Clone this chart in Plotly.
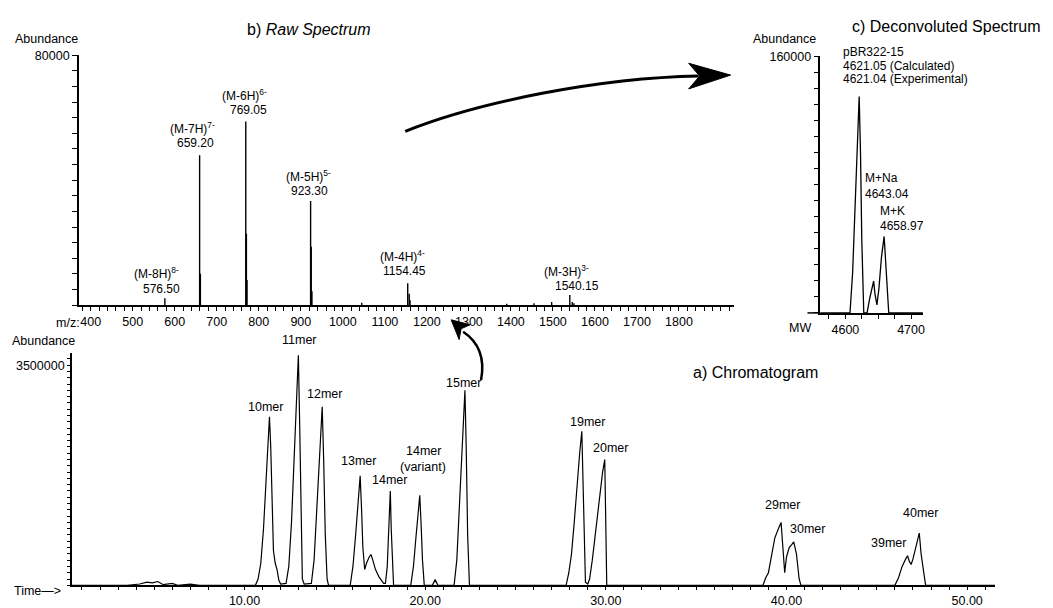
import plotly.graph_objects as go

W, H = 1053, 608

# ---------------- data ----------------
# b) Raw spectrum: stick peaks (m/z, abundance)
raw_mz = [576.5, 659.2, 661.0, 769.05, 770.5, 772.0, 923.3, 924.8, 926.5,
          1045.0, 1154.45, 1158.0, 1160.0, 1390.0, 1455.0, 1497.0, 1540.15, 1546.0, 1550.0]
raw_abund = [2200, 48000, 10000, 58800, 22800, 8000, 33300, 18700, 4400,
             700, 7000, 3600, 1500, 400, 600, 1000, 3200, 1000, 600]
raw_labels = ["(M-8H)<sup>8-</sup>", "(M-7H)<sup>7-</sup>", "(M-6H)<sup>6-</sup>",
              "(M-5H)<sup>5-</sup>", "(M-4H)<sup>4-</sup>", "(M-3H)<sup>3-</sup>"]
raw_label_mz = [576.50, 659.20, 769.05, 923.30, 1154.45, 1540.15]
raw_ticks = [400, 500, 600, 700, 800, 900, 1000, 1100, 1200, 1300, 1400, 1500, 1600, 1700, 1800]

# c) Deconvoluted spectrum (MW, abundance)
dec_mw = [4562, 4607, 4611, 4615, 4619, 4621, 4623, 4625, 4628, 4633, 4637, 4641, 4643, 4645,
          4648, 4651, 4655, 4659, 4661, 4663, 4666, 4718]
dec_abund = [0, 0, 25000, 70000, 115000, 135000, 100000, 45000, 0, 0, 9000, 17000, 19800, 12000,
             5000, 15000, 35000, 47700, 35000, 15000, 0, 0]
dec_peak_mw = [4621.04, 4643.04, 4658.97]
dec_calc = 4621.05
dec_name = "pBR322-15"

# a) Chromatogram (time in min, abundance)
chrom_time = [0.44, 3.5, 4.2, 4.6, 4.9, 5.2, 5.5, 6.0, 6.3, 7.0, 7.5,
              # 10mer
              10.6, 10.75, 10.9, 11.05, 11.2, 11.3, 11.38, 11.45, 11.52, 11.6, 11.7, 11.8, 11.9, 12.0,
              # 11mer
              12.3, 12.45, 12.6, 12.75, 12.88, 12.98, 13.05, 13.12, 13.2, 13.3,
              # 12mer
              13.7, 13.85, 14.0, 14.15, 14.3, 14.38, 14.47, 14.57, 14.65,
              # 13mer + shoulder
              15.85, 16.0, 16.15, 16.3, 16.4, 16.48, 16.55, 16.65, 16.75, 16.9, 17.0, 17.1, 17.25,
              17.45, 17.7,
              # 14mer
              17.8, 17.9, 17.97, 18.02, 18.07, 18.12, 18.18, 18.25,
              # 14mer variant
              19.2, 19.35, 19.5, 19.62, 19.7, 19.77, 19.85, 19.95,
              20.4, 20.55, 20.7,
              # 15mer
              21.6, 21.75, 21.9, 22.05, 22.15, 22.2, 22.27, 22.35, 22.45,
              # 19mer
              27.8, 27.95, 28.1, 28.25, 28.4, 28.55, 28.67, 28.73, 28.8, 28.87,
              # 20mer
              29.0, 29.1, 29.25, 29.45, 29.65, 29.82, 29.94, 29.99, 30.05,
              # 29mer / 30mer
              38.7, 38.85, 39.0, 39.15, 39.35, 39.55, 39.7, 39.8, 39.9, 40.0, 40.15, 40.3, 40.4,
              40.55, 40.7, 40.8,
              # 39mer / 40mer
              46.0, 46.2, 46.4, 46.6, 46.7, 46.8, 46.9, 47.0, 47.15, 47.35, 47.45, 47.6, 47.7,
              51.55]
chrom_abund = [0, 0, 20000, 50000, 40000, 60000, 10000, 30000, 0, 20000, 0,
               0, 100000, 350000, 900000, 1800000, 2400000, 2680000, 2200000, 1200000, 550000,
               350000, 250000, 80000, 20000,
               30000, 300000, 1000000, 2000000, 3000000, 3660000, 2600000, 1000000, 100000, 20000,
               30000, 400000, 1200000, 2200000, 2840000, 2000000, 800000, 100000, 0,
               0, 300000, 800000, 1400000, 1740000, 1200000, 600000, 250000, 350000, 450000,
               490000, 400000, 250000, 130000, 30000,
               30000, 300000, 800000, 1200000, 1500000, 900000, 300000, 0,
               0, 300000, 800000, 1250000, 1430000, 1000000, 400000, 0,
               0, 90000, 0,
               0, 400000, 1300000, 2300000, 2900000, 3100000, 2200000, 800000, 0,
               0, 200000, 500000, 1000000, 1600000, 2100000, 2450000, 1600000, 500000, 50000,
               20000, 100000, 400000, 900000, 1350000, 1800000, 2000000, 1200000, 0,
               0, 120000, 200000, 450000, 750000, 900000, 1000000, 600000, 200000, 450000,
               600000, 650000, 690000, 500000, 100000, 0,
               0, 120000, 300000, 420000, 470000, 380000, 330000, 420000, 600000, 830000,
               500000, 150000, 0,
               0]
chrom_names = ["10mer", "11mer", "12mer", "13mer", "14mer", "14mer", "15mer",
               "19mer", "20mer", "29mer", "30mer", "39mer", "40mer"]
chrom_major = [5, 10, 15, 20, 25, 30, 35, 40, 45, 50]

# ---------------- helpers ----------------
def px(x):
    return x / W

def py(y):
    return 1 - y / H

FONT = "Liberation Sans, Arial, sans-serif"

fig = go.Figure()

# raw spectrum sticks
sx, sy = [], []
for m, a in zip(raw_mz, raw_abund):
    sx += [m, m, None]
    sy += [0, a, None]
fig.add_trace(go.Scatter(x=sx, y=sy, mode="lines", line=dict(color="black", width=1.4),
                         xaxis="x", yaxis="y", hoverinfo="skip", showlegend=False))

# deconvoluted
fig.add_trace(go.Scatter(x=dec_mw, y=dec_abund, mode="lines", line=dict(color="black", width=1.3),
                         xaxis="x2", yaxis="y2", showlegend=False))

# chromatogram
fig.add_trace(go.Scatter(x=chrom_time, y=chrom_abund, mode="lines", line=dict(color="black", width=1.2),
                         xaxis="x3", yaxis="y3", showlegend=False, cliponaxis=False))

# ---------------- axes ----------------
def mz_at(p):
    return 659.2 + (p - 200) / 0.421

def mw_at(p):
    return 4600 + (p - 847) / 0.658

def t_at(p):
    return 10 + (p - 245) / 18.1

axis_common = dict(showline=True, linecolor="black", linewidth=1.5, showgrid=False, zeroline=False,
                   ticks="outside", tickcolor="black", tickwidth=1.2,
                   tickfont=dict(family=FONT, size=12.5, color="black"))

chrom_top = 3500000 * (586 - 351) / (586 - 363)

# tick lists (layout only)
raw_x_tv = list(range(380, 1921, 20))
raw_x_tt = [str(v) if v in raw_ticks else "" for v in raw_x_tv]
raw_y_tv = list(range(0, 80001, 5000))
raw_y_tt = ["80000" if v == 80000 else "" for v in raw_y_tv]
dec_x_tv = list(range(4575, 4716, 25))
dec_x_tt = [str(v) if v in (4600, 4700) else "" for v in dec_x_tv]
dec_y_tv = list(range(0, 160001, 10000))
dec_y_tt = ["160000" if v == 160000 else "" for v in dec_y_tv]
ch_x_tv = list(range(1, 52))
ch_x_tt = [("%.2f" % v) if v % 10 == 0 else "" for v in ch_x_tv]
ch_y_tv = list(range(0, 3600001, 100000))
ch_y_tt = ["3500000" if v == 3500000 else "" for v in ch_y_tv]

fig.update_layout(
    width=W, height=H, margin=dict(l=0, r=0, t=0, b=0),
    paper_bgcolor="white", plot_bgcolor="white", showlegend=False,
    xaxis=dict(axis_common, domain=[px(79), px(735)], range=[mz_at(79), mz_at(735)], anchor="y",
               tickmode="array", tickvals=raw_x_tv, ticktext=raw_x_tt, ticklen=4),
    yaxis=dict(axis_common, domain=[py(302), py(49)], range=[0, 80000], anchor="x",
               tickmode="array", tickvals=raw_y_tv, ticktext=raw_y_tt, ticklen=5),
    xaxis2=dict(axis_common, domain=[px(822), px(925)], range=[mw_at(822), mw_at(925)], anchor="y2",
                tickmode="array", tickvals=dec_x_tv, ticktext=dec_x_tt, ticklen=4),
    yaxis2=dict(axis_common, domain=[py(310), py(50)], range=[0, 160000], anchor="x2",
                tickmode="array", tickvals=dec_y_tv, ticktext=dec_y_tt, ticklen=5),
    xaxis3=dict(axis_common, domain=[px(72), px(997)], range=[t_at(72), t_at(997)], anchor="y3",
                linewidth=2, tickmode="array", tickvals=ch_x_tv, ticktext=ch_x_tt, ticklen=3),
    yaxis3=dict(axis_common, domain=[py(586), py(351)], range=[0, chrom_top], anchor="x3",
                tickmode="array", tickvals=ch_y_tv, ticktext=ch_y_tt, ticklen=3),
    # overlay axes carrying the longer major ticks of the chromatogram
    xaxis4=dict(overlaying="x3", anchor="y3", range=[t_at(72), t_at(997)], showline=False,
                showgrid=False, zeroline=False, ticks="outside", ticklen=7, tickwidth=1.3,
                tickcolor="black", tickmode="array", tickvals=chrom_major, showticklabels=False),
    yaxis4=dict(overlaying="y3", anchor="x3", range=[0, chrom_top], showline=False,
                showgrid=False, zeroline=False, ticks="outside", ticklen=6, tickwidth=1.3,
                tickcolor="black", tickmode="array", tickvals=[i * 500000 for i in range(8)],
                showticklabels=False),
)

# ---------------- annotations ----------------
ann = []

def text(x, y, s, size=13, xanchor="center", yanchor="middle", align="center"):
    ann.append(dict(x=px(x), y=py(y), xref="paper", yref="paper", text=s, showarrow=False,
                    xanchor=xanchor, yanchor=yanchor, align=align,
                    font=dict(family=FONT, size=size, color="black")))

# titles
text(310, 23, "b) <i>Raw Spectrum</i>", size=16)
text(948, 20, "c) Deconvoluted Spectrum", size=16)
text(757, 370, "a) Chromatogram", size=16)

# axis captions
text(47, 32, "Abundance", size=12.5)
text(786, 32, "Abundance", size=12.5)
text(44, 338, "Abundance", size=12.5)
text(82, 320, "m/z:", size=12.5, xanchor="right")
text(802, 325, "MW", size=12.5)
text(38, 592, "Time\u2014>", size=12.5)

# raw spectrum peak labels: (ion line x, y), (value line x, y) in px
raw_label_pos = [((157, 270), (162, 286)), ((193, 123), (196, 138)), ((245, 89), (249, 104)),
                 ((309, 171), (310, 186)), ((403, 252), (405, 268)), ((568, 268), (578, 283))]
for lab, m, (p1, p2) in zip(raw_labels, raw_label_mz, raw_label_pos):
    text(p1[0], p1[1], lab, size=12)
    text(p2[0], p2[1], f"{m:.2f}", size=12)

# deconvoluted labels
dec_lines = [dec_name, f"{dec_calc:.2f} (Calculated)", f"{dec_peak_mw[0]:.2f} (Experimental)"]
for i, s in enumerate(dec_lines):
    text(843, 46 + 13.5 * i, s, size=12, xanchor="left", align="left")
text(865, 173, "M+Na", size=12, xanchor="left", align="left")
text(865, 189, f"{dec_peak_mw[1]:.2f}", size=12, xanchor="left", align="left")
text(880, 207, "M+K", size=12, xanchor="left", align="left")
text(880, 222, f"{dec_peak_mw[2]:.2f}", size=12, xanchor="left", align="left")

# chromatogram labels
chrom_label_pos = [(266, 405), (300, 337), (325, 392), (359, 460), (390, 479), (424, 450), (464, 381),
                   (589, 421), (612, 447), (784, 505), (809, 529), (890, 543), (922, 513)]
for name, (x, y) in zip(chrom_names, chrom_label_pos):
    text(x, y, name, size=12.5)
text(424, 466, "(variant)", size=12.5)

fig.update_layout(annotations=ann)

# ---------------- decorative arrows ----------------
def P(x, y):
    return f"{px(x):.5f},{py(y):.5f}"

shapes = [
    dict(type="path", xref="paper", yref="paper",
         path=f"M {P(406,126)} C {P(480,96)} {P(600,72)} {P(700,70)}",
         line=dict(color="black", width=3)),
    dict(type="path", xref="paper", yref="paper",
         path=f"M {P(732,69)} L {P(690,57)} L {P(701,70)} L {P(690,83)} Z",
         fillcolor="black", line=dict(color="black", width=1)),
    dict(type="path", xref="paper", yref="paper",
         path=f"M {P(482,378)} Q {P(488,345)} {P(464,329)}",
         line=dict(color="black", width=2.5)),
    dict(type="path", xref="paper", yref="paper",
         path=f"M {P(452,317)} L {P(471,322)} L {P(462,326)} L {P(460,337)} Z",
         fillcolor="black", line=dict(color="black", width=1)),
    # x-axis line of the deconvoluted panel runs a little left of its y-axis
    dict(type="line", xref="paper", yref="paper", x0=px(809), x1=px(822), y0=py(310), y1=py(310),
         line=dict(color="black", width=1.5)),
]
fig.update_layout(shapes=shapes)

fig.write_html("out.html")
